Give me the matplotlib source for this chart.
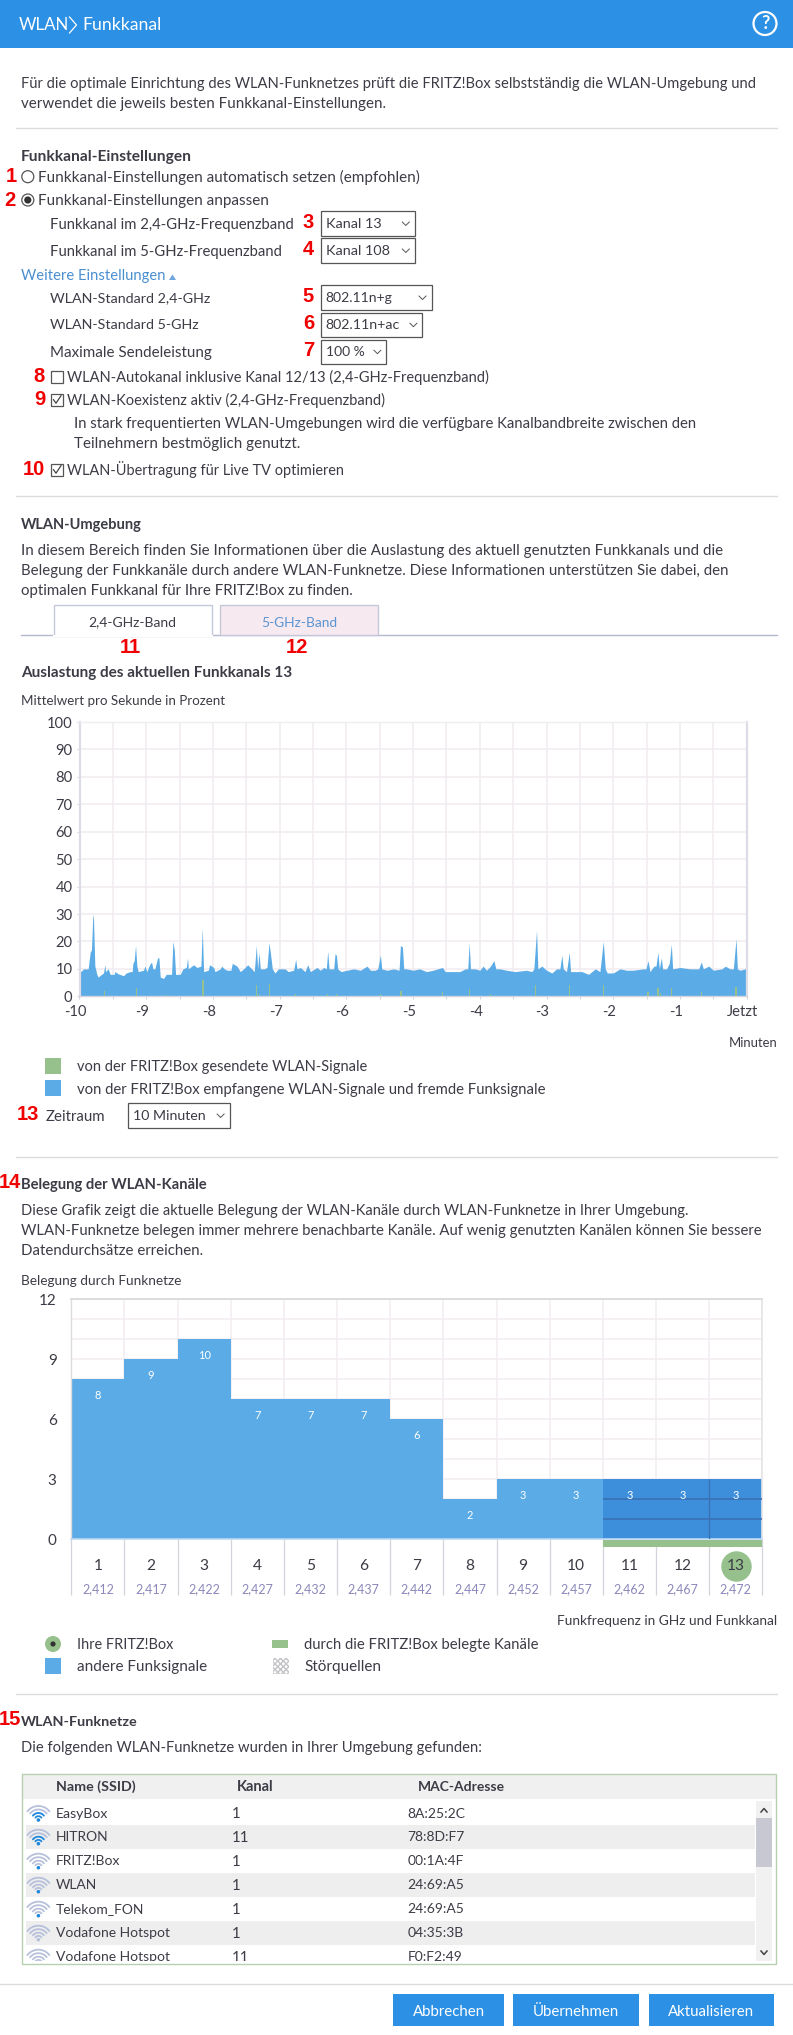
import numpy as np
import matplotlib
matplotlib.use("Agg")
import matplotlib.pyplot as plt
from matplotlib.patches import Rectangle, Circle, Polygon
from matplotlib.transforms import ScaledTranslation

plt.rcParams["font.family"] = ["Lato", "DejaVu Sans"]

W, H = 793, 2035
BLUE = "#2c90e4"
BAR = "#5aabe6"
DARK = "#3d8fdc"
GREEN = "#96c08c"
TXT = "#3c3c46"
RED = "#f00000"
RULE = "#dcdcdc"

# Auslastung: Zeit in Minuten und Prozentwerte
load_min = [-10.00, -9.98, -9.94, -9.87, -9.84, -9.82, -9.80, -9.79, -9.77, -9.74, -9.72, -9.67, -9.64, -9.62, -9.61,
            -9.57, -9.54, -9.48, -9.47, -9.42, -9.34, -9.30, -9.24, -9.21, -9.20, -9.18, -9.16, -9.14, -9.12, -9.04,
            -9.02, -8.99, -8.95, -8.92, -8.90, -8.87, -8.83, -8.81, -8.79, -8.74, -8.70, -8.62, -8.60, -8.58, -8.56,
            -8.49, -8.45, -8.40, -8.38, -8.37, -8.29, -8.24, -8.18, -8.16, -8.14, -8.07, -8.05, -7.99, -7.97, -7.89,
            -7.87, -7.83, -7.79, -7.73, -7.71, -7.64, -7.59, -7.54, -7.48, -7.42, -7.38, -7.35, -7.33, -7.31, -7.29,
            -7.23, -7.19, -7.16, -7.14, -7.11, -7.07, -7.02, -6.92, -6.87, -6.79, -6.76, -6.74, -6.69, -6.62, -6.58,
            -6.54, -6.44, -6.39, -6.34, -6.30, -6.28, -6.26, -6.19, -6.17, -6.15, -6.13, -6.08, -5.99, -5.89, -5.79,
            -5.69, -5.64, -5.57, -5.53, -5.49, -5.47, -5.39, -5.29, -5.21, -5.19, -5.16, -5.14, -5.10, -5.00, -4.90,
            -4.80, -4.70, -4.56, -4.52, -4.30, -4.22, -4.18, -4.16, -4.14, -4.07, -4.00, -3.95, -3.90, -3.84, -3.79,
            -3.76, -3.70, -3.60, -3.47, -3.30, -3.22, -3.19, -3.15, -3.13, -3.07, -3.00, -2.92, -2.85, -2.80, -2.77,
            -2.75, -2.70, -2.66, -2.64, -2.55, -2.47, -2.37, -2.27, -2.20, -2.15, -2.12, -2.09, -2.00, -1.90, -1.80,
            -1.70, -1.55, -1.51, -1.48, -1.45, -1.39, -1.36, -1.33, -1.31, -1.28, -1.26, -1.20, -1.16, -1.13, -1.11,
            -1.00, -0.85, -0.72, -0.68, -0.65, -0.57, -0.50, -0.37, -0.32, -0.25, -0.20, -0.16, -0.14, -0.10, -0.02, 0.00]
load_pct = [10, 9, 10, 10, 16, 17, 30, 28, 11, 8, 7, 8, 8.5, 11.5, 9,
            10, 8, 8, 9, 8.2, 7.5, 8.5, 9, 9, 12, 13, 18.5, 11, 9, 9.5,
            11, 9, 11.5, 12.5, 10, 10, 14, 14, 7, 6.5, 8, 8, 20, 17, 8,
            8, 10, 10.5, 14, 10, 11.5, 10.5, 11, 25, 9, 9.5, 11.5, 10.5, 9, 10,
            11, 10, 9.5, 9.5, 12, 11, 9, 10, 11.5, 10, 9, 18.5, 10, 16, 10,
            10, 10.5, 19.5, 16, 10, 8.5, 10, 10, 9, 9.5, 13.5, 10, 10.5, 9, 11.5,
            9, 10.5, 9.5, 10.5, 10, 16.5, 10, 10, 15.5, 15, 10, 9, 9.5, 10, 9.5,
            11, 9.5, 9.5, 10, 15, 10, 9.5, 10, 9.5, 18.5, 18, 10, 10, 9.5, 10,
            9, 9.5, 10.5, 9, 9, 10, 10, 19.5, 10, 10, 9.5, 11, 9.5, 11, 13,
            10, 10, 9.5, 9, 9.5, 9, 10, 24, 10, 11, 9.5, 8.5, 10, 10, 15,
            10, 9, 16, 9, 9, 9, 8, 10, 9, 20, 10, 8.5, 8.5, 10, 9.5,
            9.5, 10, 10, 13, 9, 11, 11, 16, 10, 14, 10, 10, 12, 19, 10,
            10.5, 10, 10, 12.5, 10, 11, 9.5, 10, 11, 10, 10, 21, 10, 9.5, 10, 11]
sent_min = [-9.62, -9.15, -8.70, -8.15, -7.35, -7.32, -7.15, -6.76, -6.28, -6.15, -5.49, -5.17,
            -5.18, -4.56, -4.16, -3.84, -3.16, -2.65, -2.15, -1.48, -1.33, -1.29, -1.13, -0.68, -0.16]
sent_pct = [2, 3, 0.5, 6, 4, 1, 4.5, 0.7, 0.7, 1, 0.8, 2,
            1.8, 1.5, 2.5, 0.7, 4, 4, 4, 1.5, 3, 1.3, 3, 1.5, 3.5]
minute_ticks = [-10, -9, -8, -7, -6, -5, -4, -3, -2, -1, 0]
minute_labels = ["-10", "-9", "-8", "-7", "-6", "-5", "-4", "-3", "-2", "-1", "Jetzt"]

# Belegung der Kanaele
channels = [1, 2, 3, 4, 5, 6, 7, 8, 9, 10, 11, 12, 13]
networks = [8, 9, 10, 7, 7, 7, 6, 2, 3, 3, 3, 3, 3]
freqs = ["2,412", "2,417", "2,422", "2,427", "2,432", "2,437", "2,442",
         "2,447", "2,452", "2,457", "2,462", "2,467", "2,472"]
own_channels = [11, 12, 13]
own_channel = 13

# Tabelle
ssids = ["EasyBox", "HITRON", "FRITZ!Box", "WLAN", "Telekom_FON", "Vodafone Hotspot", "Vodafone Hotspot"]
ssid_kanal = ["1", "11", "1", "1", "1", "1", "11"]
ssid_mac = ["8A:25:2C", "78:8D:F7", "00:1A:4F", "24:69:A5", "24:69:A5", "04:35:3B", "F0:F2:49"]
ssid_signal = [2, 2, 1, 1, 1, 0, 0]
# rechte Textkanten in der Tabelle, fuer die Schriftgroesse
ssid_end = [108.7, 105.7, 119.4, 92.6, 144, 169.4, 169]
mac_end = [461.8, 461.8, 460.8, 460.8, 460.8, 461.8, 460.3]

fig = plt.figure(figsize=(W / 100, H / 100), dpi=100, facecolor="white")
renderer = fig.canvas.get_renderer()
ui = fig.add_axes([0, 0, 1, 1], zorder=0)
ui.set_xlim(0, W)
ui.set_ylim(H, 0)
ui.axis("off")


def axes_px(left, top, right, bottom):
    return fig.add_axes([left / W, 1 - bottom / H, (right - left) / W, (bottom - top) / H], zorder=1)


def txt(x, y, s, end=None, size=10.6, weight="normal", color=TXT, ha="left", z=3):
    # end = rechte Kante im Original, Lato ist anders breit als die Originalschrift
    t = ui.text(x, y, s, fontsize=size, fontweight=weight, color=color, ha=ha, va="baseline", zorder=z)
    if end is not None:
        ratio = (end - x) / t.get_window_extent(renderer).width
        size = size * min(max(ratio, 0.94), 1.08)
        t.set_fontsize(size)
    # y ist die optische Zeilenmitte
    t.set_y(y + min(size, 11) * 0.46)


def num(x, y, s):
    ui.text(x, y, s, fontsize=14.5, fontweight="bold", color=RED, ha="center", va="center",
            family="Liberation Sans", zorder=4)


def rule(y, x0=16, x1=777):
    ui.plot([x0, x1], [y, y], color=RULE, lw=1, zorder=1)


def select(x0, x1, y0, y1, s, end):
    ui.add_patch(Rectangle((x0, y0), x1 - x0, y1 - y0, fc="white", ec="#555555", lw=0.9, zorder=2))
    txt(x0 + 5, (y0 + y1) / 2, s, end)
    cx = x1 - 9
    cy = (y0 + y1) / 2
    ui.plot([cx - 3.5, cx, cx + 3.5], [cy - 1.5, cy + 2, cy - 1.5], color="#555555", lw=0.7, zorder=3)


def checkbox(y, checked):
    ui.add_patch(Rectangle((51, y - 6), 12, 12, fc="white", ec="#555555", lw=0.9, zorder=2))
    if checked:
        ui.plot([53.5, 56, 61], [y, y + 3.5, y - 4], color="#444444", lw=0.9, zorder=3)


def radio(y, on):
    ui.add_patch(Circle((27.8, y), 6, fc="white", ec="#555555", lw=0.9, zorder=2))
    if on:
        ui.add_patch(Circle((27.8, y), 3.6, fc="#333333", ec="none", zorder=3))


def wifi(cx, cy, level):
    t = np.radians(np.linspace(218, 322, 24))
    for i, r in enumerate([3.8, 7, 10.5, 14]):
        col = "#1f88dc" if level == 2 and i < 2 else "#b7c1dc"
        ui.plot(cx + r * np.cos(t), cy + r * np.sin(t), color=col, lw=1.3, zorder=3, solid_capstyle="round")
    ui.add_patch(Circle((cx, cy), 1.8, fc="#1f88dc" if level > 0 else "#b7c1dc", ec="none", zorder=3))


# Kopfzeile
ui.add_patch(Rectangle((0, 0), W, 48, fc=BLUE, ec="none", zorder=1))
txt(18.5, 25, "WLAN", size=12.2, color="white")
ui.plot([69.5, 76.5, 69.5], [17, 25, 33], color="white", lw=0.9, zorder=3)
txt(82, 25, "Funkkanal", 159.8, size=13.5, color="white")
ui.add_patch(Circle((765, 23.5), 11.5, fc="none", ec="white", lw=1.6, zorder=3))
ui.text(765, 23.5, "?", fontsize=13, fontweight="bold", color="white", ha="center", va="center", zorder=3)

txt(21, 82.7, "Für die optimale Einrichtung des WLAN-Funknetzes prüft die FRITZ!Box selbstständig die WLAN-Umgebung und", 757.7)
txt(21, 102.7, "verwendet die jeweils besten Funkkanal-Einstellungen.", 386)
rule(128.3)

# Funkkanal-Einstellungen
txt(21, 156, "Funkkanal-Einstellungen", 192, weight="bold")
num(11, 176.7, "1")
radio(176.7, False)
txt(38.4, 176.7, "Funkkanal-Einstellungen automatisch setzen (empfohlen)", 421.9)
num(9.6, 200, "2")
radio(200, True)
txt(38.4, 200, "Funkkanal-Einstellungen anpassen", 269.6)

txt(50, 223.7, "Funkkanal im 2,4-GHz-Frequenzband", 295.4)
num(308.5, 222.5, "3")
select(320.7, 414.8, 211.3, 235.7, "Kanal 13", 381.4)
txt(50, 250.7, "Funkkanal im 5-GHz-Frequenzband", 283.8)
num(308, 249.5, "4")
select(320.7, 414.8, 238.3, 262.7, "Kanal 108", 390)
txt(21, 275, "Weitere Einstellungen", 165.5, color="#4a8fd0")
ui.add_patch(Polygon([[169, 280], [176, 280], [172.5, 274.5]], fc="#6ea5dc", ec="none", zorder=3))
txt(50, 297.7, "WLAN-Standard 2,4-GHz", 210)
num(308.5, 296.5, "5")
select(320.7, 431.5, 285.3, 309.7, "802.11n+g", 393)
txt(50, 324.7, "WLAN-Standard 5-GHz", 198.8)
num(308.5, 323.5, "6")
select(320.7, 422.4, 312.7, 336.7, "802.11n+ac", 400)
txt(50, 351.7, "Maximale Sendeleistung", 212)
num(308.5, 350.5, "7")
select(320.7, 386.4, 339.7, 363.7, "100 %", 364.7)

num(39.5, 376.5, "8")
checkbox(376.7, False)
txt(66.8, 376.7, "WLAN-Autokanal inklusive Kanal 12/13 (2,4-GHz-Frequenzband)", 489)
num(39.5, 399.5, "9")
checkbox(399.7, True)
txt(66.8, 399.7, "WLAN-Koexistenz aktiv (2,4-GHz-Frequenzband)", 384)
txt(73.8, 422.7, "In stark frequentierten WLAN-Umgebungen wird die verfügbare Kanalbandbreite zwischen den", 701)
txt(73.8, 443, "Teilnehmern bestmöglich genutzt.", 301.5)
num(33.4, 469.5, "10")
checkbox(469.7, True)
txt(66.8, 469.7, "WLAN-Übertragung für Live TV optimieren", 345)
rule(496.3)

# WLAN-Umgebung
txt(21, 524.3, "WLAN-Umgebung", 142, weight="bold")
txt(21, 550, "In diesem Bereich finden Sie Informationen über die Auslastung des aktuell genutzten Funkkanals und die", 723.3)
txt(21, 570, "Belegung der Funkkanäle durch andere WLAN-Funknetze. Diese Informationen unterstützen Sie dabei, den", 728.4)
txt(21, 590, "optimalen Funkkanal für Ihre FRITZ!Box zu finden.", 352.6)

ui.plot([21, 777], [635.5, 635.5], color="#b4b8cc", lw=1, zorder=1)
ui.add_patch(Rectangle((53.6, 605.3), 158.8, 30.5, fc="white", ec="#c4c8d8", lw=1, zorder=2))
ui.plot([54.2, 211.8], [636, 636], color="white", lw=1.6, zorder=2)
ui.add_patch(Rectangle((219.5, 605.3), 158.8, 30.2, fc="#f6e9f0", ec="#c4c8d8", lw=1, zorder=2))
txt(132.5, 622, "2,4-GHz-Band", size=10, ha="center")
txt(299, 622, "5-GHz-Band", size=9.9, color="#5a94d2", ha="center")
num(130.5, 647.7, "11")
num(297.4, 647.7, "12")
txt(21, 672, "Auslastung des aktuellen Funkkanals 13", 293, weight="bold")
txt(21, 701, "Mittelwert pro Sekunde in Prozent", 224.5, size=9.4)

# Diagramm Auslastung
ax1 = axes_px(79.5, 722, 746.7, 996.3)
ax1.patch.set_alpha(0)
ax1.set_xlim(-10, 0)
ax1.set_ylim(0, 100)
ax1.fill_between(load_min, load_pct, 0, color=BAR, lw=0, zorder=2)
ax1.bar(sent_min, sent_pct, width=0.018, color=GREEN, lw=0, zorder=3)
ax1.set_xticks(minute_ticks)
ax1.set_xticklabels(minute_labels)
ax1.set_xticks(np.arange(-9.5, 0, 1), minor=True)
ax1.set_yticks(range(0, 101, 10))
ax1.grid(True, which="both", color="#f1ecf0", lw=1.2, zorder=0)
ax1.set_axisbelow(True)
ax1.tick_params(axis="both", which="both", length=2.5, width=0.8, color="#d4d4de", labelsize=10.6,
                labelcolor=TXT, pad=2.5)
for lab in ax1.get_xticklabels():
    lab.set_transform(lab.get_transform() + ScaledTranslation(-4 / 100, -1.5 / 100, fig.dpi_scale_trans))
for side, col, lw in [("left", "#dcdce6", 1.6), ("right", "#dcdce6", 1.6), ("top", "#eeeeee", 1), ("bottom", "#d4d4de", 1)]:
    ax1.spines[side].set_color(col)
    ax1.spines[side].set_linewidth(lw)

txt(777, 1042.7, "Minuten", size=9.4, ha="right")
ui.add_patch(Rectangle((45, 1058), 16, 16, fc=GREEN, ec="none", zorder=2))
txt(77, 1065.7, "von der FRITZ!Box gesendete WLAN-Signale", 366.7)
ui.add_patch(Rectangle((45, 1080), 16, 16, fc=BAR, ec="none", zorder=2))
txt(77, 1088.7, "von der FRITZ!Box empfangene WLAN-Signale und fremde Funksignale", 546)
num(28.3, 1114, "13")
txt(45.5, 1116, "Zeitraum", 105.7)
select(128, 229.6, 1103.3, 1127.7, "10 Minuten", 206.4)
rule(1156.7)

# Belegung der WLAN-Kanaele
num(10, 1182.3, "14")
txt(21, 1184, "Belegung der WLAN-Kanäle", 207.4, weight="bold")
txt(21, 1210, "Diese Grafik zeigt die aktuelle Belegung der WLAN-Kanäle durch WLAN-Funknetze in Ihrer Umgebung.", 692)
txt(21, 1230, "WLAN-Funknetze belegen immer mehrere benachbarte Kanäle. Auf wenig genutzten Kanälen können Sie bessere", 768.8)
txt(21, 1250, "Datendurchsätze erreichen.", 203.8)
txt(21, 1280.7, "Belegung durch Funknetze", 180.6, size=9.4)

ax2 = axes_px(71.3, 1299, 762.3, 1539)
ax2.patch.set_alpha(0)
ax2.set_xlim(0.5, 13.5)
ax2.set_ylim(0, 12)
bar_cols = [DARK if c in own_channels else BAR for c in channels]
ax2.bar(channels, networks, width=1.0, color=bar_cols, lw=0, zorder=2)
for c, n in zip(channels, networks):
    ax2.text(c, n - 0.8, str(n), color="white", fontsize=8, ha="center", va="center", zorder=4)
# Stoerlinien in den eigenen Kanaelen
ax2.hlines([1, 2], min(own_channels) - 0.5, max(own_channels) + 0.5, color="#3a70b4", lw=1.2, zorder=3)
ax2.vlines(own_channel - 0.5, 0, networks[-1], color="#3a70b4", lw=1.0, zorder=3)
ax2.bar(own_channels, [-0.335] * len(own_channels), bottom=-0.05, width=1.0, color=GREEN, lw=0, clip_on=False, zorder=2)
ax2.set_yticks(range(0, 13, 3))
ax2.set_yticks(range(0, 13), minor=True)
ax2.set_xticks(np.arange(0.5, 14, 1))
ax2.set_xticklabels([])
ax2.grid(True, which="both", color="#f3ecf0", lw=1.1, zorder=0)
ax2.set_axisbelow(True)
ax2.tick_params(axis="x", length=0)
ax2.tick_params(axis="y", which="both", length=0, labelsize=11, labelcolor=TXT, pad=10.5)
ax2.vlines(np.arange(0.5, 14, 1), -2.8, 0, color="#d4d4dc", lw=0.9, clip_on=False, zorder=1)
ax2.scatter([own_channel], [-1.335], s=480, color=GREEN, lw=0, clip_on=False, zorder=2)
for c, f in zip(channels, freqs):
    ax2.text(c, -1.335, str(c), color=TXT, fontsize=11.2, ha="center", va="center", zorder=4)
    ax2.text(c, -2.485, f, color="#8c88bc", fontsize=9, ha="center", va="center", zorder=4)
for side, col, lw in [("left", "#dcdce0", 1), ("right", "#e4e4e8", 1.2), ("top", "#dcdcdc", 1.4), ("bottom", "#bcd8f2", 1.2)]:
    ax2.spines[side].set_color(col)
    ax2.spines[side].set_linewidth(lw)

txt(777, 1620.7, "Funkfrequenz in GHz und Funkkanal", size=9.9, ha="right")
ui.add_patch(Circle((53, 1644), 8, fc=GREEN, ec="none", zorder=2))
ui.add_patch(Circle((53, 1644), 2.6, fc="#333333", ec="none", zorder=3))
txt(77, 1644, "Ihre FRITZ!Box", 173.5)
ui.add_patch(Rectangle((272, 1640), 16, 8, fc=GREEN, ec="none", zorder=2))
txt(303.5, 1644, "durch die FRITZ!Box belegte Kanäle", 538.7)
ui.add_patch(Rectangle((45, 1658), 16, 16, fc=BAR, ec="none", zorder=2))
txt(77, 1666, "andere Funksignale", 207.4)
ui.add_patch(Rectangle((273, 1658), 16, 16, fc="white", ec="#c4c4c8", hatch="xxxxxx", lw=0, zorder=2))
txt(304, 1666, "Störquellen", 380.9)
rule(1694.3)

# WLAN-Funknetze
num(9.6, 1719.3, "15")
txt(21, 1721, "WLAN-Funknetze", 138, weight="bold")
txt(21, 1746.7, "Die folgenden WLAN-Funknetze wurden in Ihrer Umgebung gefunden:", 483)

ui.add_patch(Rectangle((21.7, 1773.7), 754.7, 25.3, fc="#f0f0f0", ec="none", zorder=1))
txt(55.6, 1786, "Name (SSID)", 135.6, weight="bold")
txt(236.7, 1786, "Kanal", 273.6, weight="bold")
txt(418.3, 1786, "MAC-Adresse", 501.8, weight="bold")
for i in range(len(ssids)):
    y = 1813 + 24 * i - (0.3 if i else 0)
    if i % 2 == 1:
        ui.add_patch(Rectangle((26.3, y - 12), 728.7, 24, fc="#eeeeee", ec="none", zorder=1))
    wifi(38.4, y + 7, ssid_signal[i])
    txt(56, y, ssids[i], ssid_end[i])
    txt(232, y, ssid_kanal[i], size=10.8)
    txt(407.7, y, ssid_mac[i], mac_end[i])
# letzte Zeile wird vom Rahmen abgeschnitten
ui.add_patch(Rectangle((21.7, 1961), 754.7, 22, fc="white", ec="none", zorder=5))
ui.add_patch(Rectangle((21.7, 1773.7), 754.7, 190, fc="none", ec="#b6d0b0", lw=1, zorder=6))
ui.add_patch(Rectangle((756, 1801), 16, 160, fc="#f1f1f1", ec="none", zorder=2))
ui.add_patch(Rectangle((756, 1818), 16, 48.7, fc="#c8c8d2", ec="none", zorder=3))
ui.plot([761, 764, 767], [1812, 1808.5, 1812], color="#444444", lw=1.1, zorder=3)
ui.plot([761, 764, 767], [1951, 1954.5, 1951], color="#444444", lw=1.1, zorder=3)

rule(1984, 0, W)
for x0, x1, s in [(393, 504.3, "Abbrechen"), (513, 638.8, "Übernehmen"), (649, 774, "Aktualisieren")]:
    ui.add_patch(Rectangle((x0, 1994), x1 - x0, 31.7, fc=BLUE, ec="none", zorder=2))
    txt((x0 + x1) / 2, 2010.7, s, size=10.8, color="white", ha="center")

fig.savefig("out.png", dpi=100)
